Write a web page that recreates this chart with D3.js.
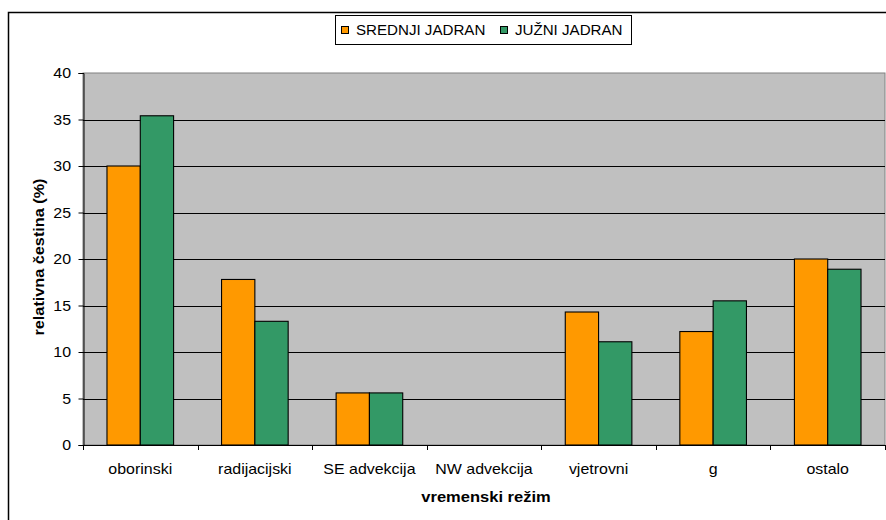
<!DOCTYPE html>
<html>
<head>
<meta charset="utf-8">
<script src="https://cdn.jsdelivr.net/npm/d3@7"></script>
<style>
  body { margin: 0; background: #fff; }
  svg { display: block; font-family: "Liberation Sans", Arial, sans-serif; }
</style>
</head>
<body>
<svg id="chart" width="886" height="520"></svg>
<script>
// Weather regime categories and relative frequencies (%) per region
const categories = ["oborinski", "radijacijski", "SE advekcija", "NW advekcija", "vjetrovni", "g", "ostalo"];
const seriesNames = ["SREDNJI JADRAN", "JUŽNI JADRAN"];
const srednjiJadran = [30.0, 17.8, 5.6, 0, 14.3, 12.2, 20.0];
const juzniJadran = [35.4, 13.3, 5.6, 0, 11.1, 15.5, 18.9];
const yTicks = [0, 5, 10, 15, 20, 25, 30, 35, 40];
const colors = ["#FF9900", "#339966"];

const svg = d3.select("#chart");

// Text helper: places a label and widens it horizontally
function label(parent, x, y, txt, opts) {
  const o = Object.assign({ size: 14, sx: 1.14, anchor: "middle", weight: "normal", rotate: 0 }, opts || {});
  return parent.append("text")
    .attr("transform", `translate(${x},${y})${o.rotate ? ` rotate(${o.rotate})` : ""} scale(${o.sx},1)`)
    .attr("text-anchor", o.anchor)
    .attr("font-size", o.size)
    .attr("font-weight", o.weight)
    .attr("fill", "#000")
    .text(txt);
}

// Outer chart frame
svg.append("rect")
  .attr("x", 8.5).attr("y", 12.5)
  .attr("width", 886).attr("height", 520)
  .attr("fill", "#fff").attr("stroke", "#000").attr("stroke-width", 1.5);

const plot = { left: 83, top: 73, right: 885, bottom: 445 };

const x = d3.scaleBand().domain(categories).range([plot.left, plot.right]).paddingInner(0).paddingOuter(0);
const inner = d3.scaleBand().domain(seriesNames).range([0, x.bandwidth()]).paddingInner(0).paddingOuter(0.72);
const y = d3.scaleLinear().domain([0, 40]).range([plot.bottom, plot.top]);

// Plot background
svg.append("rect")
  .attr("x", plot.left).attr("y", plot.top)
  .attr("width", plot.right - plot.left).attr("height", plot.bottom - plot.top)
  .attr("fill", "#C0C0C0").attr("stroke", "#808080").attr("stroke-width", 1);

// Horizontal gridlines
svg.append("g").selectAll("line")
  .data(yTicks.filter(d => d > 0 && d < 40))
  .join("line")
  .attr("x1", plot.left).attr("x2", plot.right)
  .attr("y1", d => Math.round(y(d)) + 0.5).attr("y2", d => Math.round(y(d)) + 0.5)
  .attr("stroke", "#000").attr("stroke-width", 1);

// Bars
const rows = categories.map((c, i) => ({ cat: c, vals: [srednjiJadran[i], juzniJadran[i]] }));
const groups = svg.append("g").selectAll("g")
  .data(rows).join("g")
  .attr("transform", d => `translate(${x(d.cat)},0)`);
groups.selectAll("rect")
  .data(d => d.vals.map((v, k) => ({ name: seriesNames[k], v, k })).filter(e => e.v > 0))
  .join("rect")
  .attr("x", e => inner(e.name))
  .attr("y", e => y(e.v))
  .attr("width", inner.bandwidth())
  .attr("height", e => y(0) - y(e.v))
  .attr("fill", e => colors[e.k])
  .attr("stroke", "#000").attr("stroke-width", 1.1);

// Y axis line and ticks
const yAxis = d3.axisLeft(y).tickValues(yTicks).tickSize(5).tickFormat("");
const gy = svg.append("g").attr("transform", `translate(${plot.left + 0.5},0)`).call(yAxis);
gy.select(".domain").attr("stroke", "#000");
gy.selectAll(".tick line").attr("stroke", "#000");
const gyl = svg.append("g");
yTicks.forEach(t => label(gyl, 71, y(t) + 5, String(t), { anchor: "end" }));

// X axis: ticks sit on category boundaries
const boundaries = categories.map(c => x(c)).concat([x(categories[categories.length - 1]) + x.bandwidth()]);
const gx = svg.append("g");
gx.append("line")
  .attr("x1", plot.left).attr("x2", plot.right)
  .attr("y1", plot.bottom + 0.5).attr("y2", plot.bottom + 0.5)
  .attr("stroke", "#000");
gx.selectAll("line.tk").data(boundaries).join("line").attr("class", "tk")
  .attr("x1", d => Math.round(d) + 0.5).attr("x2", d => Math.round(d) + 0.5)
  .attr("y1", plot.bottom).attr("y2", plot.bottom + 5)
  .attr("stroke", "#000");
categories.forEach(c => label(gx, x(c) + x.bandwidth() / 2, 474, c));

// Axis titles
label(svg, (plot.left + plot.right) / 2 + 2, 502, "vremenski režim", { weight: "bold", sx: 1.18 });
label(svg, 44, 257, "relativna čestina (%)", { weight: "bold", sx: 1.16, rotate: -90 });

// Legend
const legend = svg.append("g");
legend.append("rect")
  .attr("x", 335.5).attr("y", 15.5).attr("width", 296).attr("height", 29)
  .attr("fill", "#fff").attr("stroke", "#000").attr("stroke-width", 1);
const legendItems = [{ name: seriesNames[0], x: 341 }, { name: seriesNames[1], x: 500 }];
legendItems.forEach((it, k) => {
  legend.append("rect")
    .attr("x", it.x + 0.5).attr("y", 26.5).attr("width", 7).attr("height", 7)
    .attr("fill", colors[k]).attr("stroke", "#000").attr("stroke-width", 1);
  label(legend, it.x + 15, 35, it.name, { anchor: "start", sx: 1.08 });
});
</script>
</body>
</html>
